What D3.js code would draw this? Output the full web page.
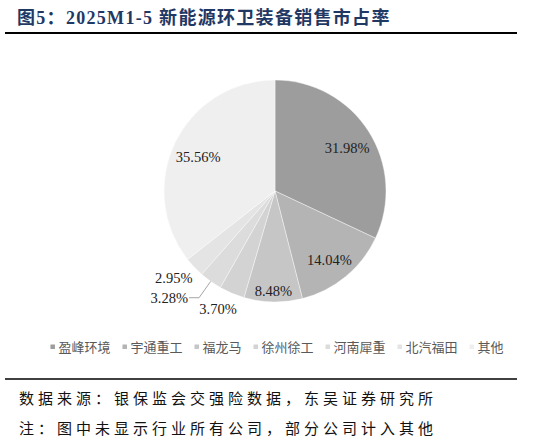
<!DOCTYPE html>
<html>
<head>
<meta charset="utf-8">
<script src="https://cdn.jsdelivr.net/npm/d3@7"></script>
<style>
  body { margin: 0; background: #fff; }
  svg { display: block; }
</style>
</head>
<body>
<div id="chart"></div>
<script>
// data
const companies = ["盈峰环境", "宇通重工", "福龙马", "徐州徐工", "河南犀重", "北汽福田", "其他"];
const shares = [31.98, 14.04, 8.48, 3.70, 3.28, 2.95, 35.56];
const sliceColors = ["#9d9d9d", "#b4b4b4", "#c6c6c6", "#d3d3d3", "#dcdcdc", "#e4e4e4", "#efefef"];
const titleText = "图5：2025M1-5 新能源环卫装备销售市占率";
const notes = ["数据来源：银保监会交强险数据，东吴证券研究所", "注：图中未显示行业所有公司，部分公司计入其他"];

const W = 549, H = 443;
const cx = 275, cy = 191, r = 111;

const svg = d3.select("#chart")
  .append("svg")
  .attr("width", W)
  .attr("height", H);

// title + rules
svg.append("text")
  .attr("x", 17).attr("y", 24)
  .attr("font-family", "'Liberation Serif', 'Noto Sans CJK SC'")
  .attr("font-weight", "bold")
  .attr("font-size", 18)
  .attr("letter-spacing", 1.3)
  .attr("fill", "#1f3864")
  .text(titleText);

svg.append("line")
  .attr("x1", 5).attr("x2", 517).attr("y1", 33).attr("y2", 33)
  .attr("stroke", "#000").attr("stroke-width", 2);

svg.append("line")
  .attr("x1", 5).attr("x2", 517).attr("y1", 379).attr("y2", 379)
  .attr("stroke", "#000").attr("stroke-width", 1.6);

svg.selectAll("text.note")
  .data(notes)
  .enter()
  .append("text")
  .attr("class", "note")
  .attr("x", 19)
  .attr("y", (d, i) => 404 + i * 30)
  .attr("font-family", "'Noto Sans CJK SC'")
  .attr("font-size", 15)
  .attr("letter-spacing", 4.0)
  .attr("fill", "#111")
  .text(d => d);

// pie
const color = d3.scaleOrdinal().domain(companies).range(sliceColors);
const rows = companies.map((c, i) => ({ name: c, value: shares[i] }));
const pie = d3.pie().sort(null).value(d => d.value);
const arcs = pie(rows);

const arc = d3.arc().innerRadius(0).outerRadius(r);
const g = svg.append("g").attr("transform", "translate(" + cx + "," + cy + ")");

g.selectAll("path")
  .data(arcs)
  .enter()
  .append("path")
  .attr("d", arc)
  .attr("fill", d => color(d.data.name))
  .attr("stroke", "#fff")
  .attr("stroke-width", 0.4);

const fmt = d => d.toFixed(2) + "%";
const polar = (a, rad) => [rad * Math.sin(a), -rad * Math.cos(a)];
const mid = d => (d.startAngle + d.endAngle) / 2;

// big slices: labels inside
const inside = arcs.filter(d => d.data.value >= 5);
g.selectAll("text.in")
  .data(inside)
  .enter()
  .append("text")
  .attr("class", "in")
  .attr("transform", d => {
    const p = polar(mid(d), d.data.value < 10 ? r * 0.87 : r * 0.77);
    return "translate(" + p[0] + "," + (p[1] + 3) + ")";
  })
  .attr("text-anchor", "middle")
  .attr("dy", "0.35em")
  .attr("font-family", "'Liberation Serif', serif")
  .attr("font-size", 14.5)
  .attr("fill", "#222")
  .text(d => fmt(d.data.value));

// small slices: labels outside, the crowded middle one gets a leader line
const small = arcs.filter(d => d.data.value < 5);
small.forEach((d, i) => {
  const a = mid(d);
  const p = polar(a, r + 20);
  const crowded = i > 0 && i < small.length - 1;
  if (crowded) {
    const e = polar(a, r);
    g.append("polyline")
      .attr("points", [e, p, [p[0] - 10, p[1]]].map(q => q.join(",")).join(" "))
      .attr("fill", "none")
      .attr("stroke", "#a6a6a6")
      .attr("stroke-width", 1);
  }
  g.append("text")
    .attr("x", crowded ? p[0] - 11 : p[0] - 6)
    .attr("y", crowded ? p[1] : p[1] - 3)
    .attr("text-anchor", crowded ? "end" : "middle")
    .attr("dy", "0.35em")
    .attr("font-family", "'Liberation Serif', serif")
    .attr("font-size", 14.5)
    .attr("fill", "#222")
    .text(fmt(d.data.value));
});

// legend
const legend = svg.append("g");
let lx = 0;
companies.forEach(c => {
  const item = legend.append("g").attr("transform", "translate(" + lx + ",0)");
  item.append("rect")
    .attr("x", 0).attr("y", -2.5)
    .attr("width", 4.5).attr("height", 4.5)
    .attr("fill", color(c));
  const t = item.append("text")
    .attr("x", 8).attr("dy", "0.35em")
    .attr("font-family", "'Noto Sans CJK SC'")
    .attr("font-size", 13)
    .attr("fill", "#595959")
    .text(c);
  lx += 8 + t.node().getComputedTextLength() + 12;
});
legend.attr("transform", "translate(" + (cx + 2 - (lx - 12) / 2) + ",347)");
</script>
</body>
</html>
